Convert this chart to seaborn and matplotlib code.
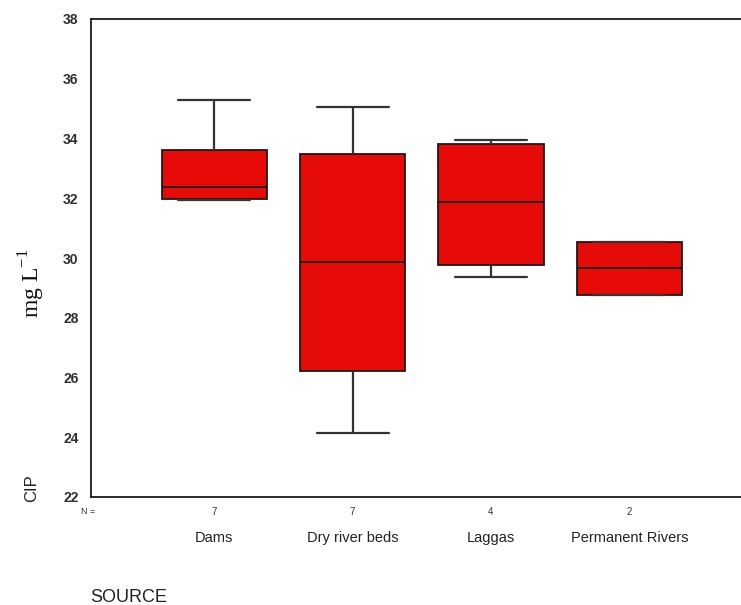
import numpy as np
import pandas as pd
import matplotlib
matplotlib.use("Agg")
import matplotlib.pyplot as plt
import seaborn as sns

# Five-number summaries (min, Q1, median, Q3, max) of CIP per source, mg/L
sources = ["Dams", "Dry river beds", "Laggas", "Permanent Rivers"]
counts = [7, 7, 4, 2]
dams = [31.93, 31.97, 32.36, 33.60, 35.28]
dry_river_beds = [24.14, 26.22, 29.88, 33.47, 35.05]
laggas = [29.38, 29.78, 31.89, 33.81, 33.94]
permanent_rivers = [28.77, 28.77, 29.68, 30.55, 30.55]
y_ticks = [22, 24, 26, 28, 30, 32, 34, 36, 38]

summaries = [dams, dry_river_beds, laggas, permanent_rivers]
df = pd.DataFrame(
    [(src, v) for src, vals in zip(sources, summaries) for v in vals],
    columns=["SOURCE", "CIP"],
)

sns.set_style("white")
plt.rcParams["font.family"] = ["Liberation Sans", "DejaVu Sans"]

fig = plt.figure(figsize=(7.41, 6.05), dpi=100)
ax = fig.add_axes([91 / 741, 1 - 497 / 605, 1 - 91 / 741 + 0.01, (497 - 19) / 605])

sns.boxplot(
    data=df, x="SOURCE", y="CIP", order=sources, ax=ax,
    color="#E60B06", saturation=1, width=0.76, whis=np.inf,
    linewidth=1.3, linecolor="#1a1a1a",
    medianprops=dict(color="#1a1a1a", linewidth=1.3),
    whiskerprops=dict(color="#333333", linewidth=1.6),
    capprops=dict(color="#333333", linewidth=1.6),
    boxprops=dict(edgecolor="#1a1a1a", linewidth=1.3),
    capwidths=0.52,
)

ax.set_xlim(-0.89, 3.86)
ax.set_ylim(22, 38)
ax.set_yticks(y_ticks)
ax.set_yticklabels([str(t) for t in y_ticks], fontsize=10, color="#2e2e2e",
                   fontweight="bold")
ax.tick_params(axis="y", length=0, pad=9)
ax.set_xticks([])
ax.set_xlabel("")
ax.set_ylabel("")
for side in ["left", "top", "bottom"]:
    ax.spines[side].set_color("#1a1a1a")
    ax.spines[side].set_linewidth(1.3)
ax.spines["right"].set_visible(False)

# Sample sizes and category names beneath the axis
trans = ax.get_xaxis_transform()
ax.text(-0.91, -0.031, "N =", transform=trans, fontsize=6.5, ha="center",
        va="center", color="#333333")
for i, (src, n) in enumerate(zip(sources, counts)):
    ax.text(i, -0.031, str(n), transform=trans, fontsize=7, ha="center",
            va="center", color="#333333")
    ax.text(i, -0.086, src, transform=trans, fontsize=10.5, ha="center",
            va="center", color="#222222")

fig.text(90 / 741, 1 - 597 / 605, "SOURCE", fontsize=13, ha="left",
         va="center", color="#222222")
fig.text(32 / 741, 1 - 488 / 605, "CIP", fontsize=12, rotation=90,
         ha="center", va="center", color="#222222")
fig.text(32 / 741, 1 - 283 / 605, r"mg L$^{\mathregular{-1}}$", fontsize=17,
         rotation=90, ha="center", va="center", color="#111111",
         family=["Liberation Serif", "DejaVu Serif"])

fig.savefig("out.png", dpi=100)
